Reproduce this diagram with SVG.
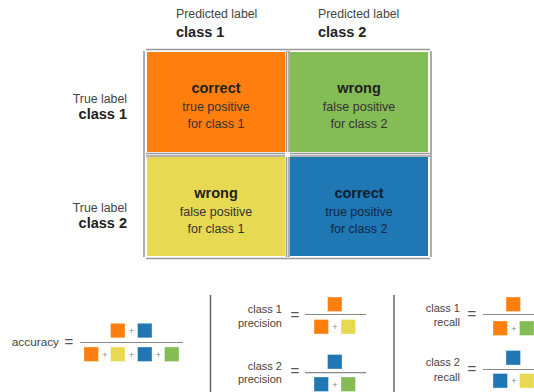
<svg xmlns="http://www.w3.org/2000/svg" width="534" height="392" viewBox="0 0 534 392">
<style>
.lbl{font-family:"Liberation Sans",Arial,sans-serif;font-size:12.3px;fill:#444}
.cls{font-family:"Liberation Sans",Arial,sans-serif;font-size:14.5px;font-weight:bold;fill:#222}
.hd{font-family:"Liberation Sans",Arial,sans-serif;font-size:14.5px;font-weight:bold;fill:#222;text-anchor:middle}
.bd{font-family:"Liberation Sans",Arial,sans-serif;font-size:12.5px;fill:#333;text-anchor:middle}
.f{font-family:"Liberation Sans",Arial,sans-serif;font-size:11px;fill:#444;text-anchor:end}
.eq{font-family:"Liberation Sans",Arial,sans-serif;font-size:15px;fill:#555;text-anchor:middle}
.pl{font-family:"Liberation Sans",Arial,sans-serif;font-size:9px;fill:#888;text-anchor:middle}
.grid{stroke:#999;stroke-width:1.6;fill:none}
.sep{stroke:#666;stroke-width:1.5}
.fl{stroke:#888;stroke-width:1.2}
.sq{stroke-width:1;stroke-opacity:0.35;stroke:#fff}
.o{fill:#FF7F0E}.b{fill:#1F77B4}.y{fill:#E8D952}.g{fill:#84BC55}
</style>
<defs>
<rect id="s" width="14.5" height="14.5"/>
</defs>
<g id="header">
<text class="lbl" x="176" y="18">Predicted label</text>
<text class="cls" x="176" y="37">class 1</text>
<text class="lbl" x="318" y="18">Predicted label</text>
<text class="cls" x="318" y="37">class 2</text>
<text class="lbl" x="127" y="103" text-anchor="end">True label</text>
<text class="cls" x="127" y="119" text-anchor="end">class 1</text>
<text class="lbl" x="127" y="212" text-anchor="end">True label</text>
<text class="cls" x="127" y="228" text-anchor="end">class 2</text>
</g>
<g id="grid">
<line class="grid" x1="146" y1="49.5" x2="430" y2="49.5"/>
<line class="grid" x1="144" y1="51" x2="144" y2="257"/>
<line class="grid" x1="431" y1="51" x2="431" y2="257"/>
<line class="grid" x1="146" y1="258.5" x2="430" y2="258.5"/>
<line class="grid" x1="146" y1="153.5" x2="285" y2="153.5"/>
<line class="grid" x1="290" y1="153.5" x2="430" y2="153.5"/>
<line class="grid" x1="146" y1="156" x2="285" y2="156"/>
<line class="grid" x1="290" y1="156" x2="430" y2="156"/>
<line class="grid" x1="286.5" y1="51" x2="286.5" y2="152"/>
<line class="grid" x1="289" y1="51" x2="289" y2="152"/>
<line class="grid" x1="286.5" y1="157" x2="286.5" y2="257"/>
<line class="grid" x1="289" y1="157" x2="289" y2="257"/>
</g>
<g id="cell-tp1">
<rect class="o" x="147" y="52" width="138" height="100"/>
<text class="hd" x="216" y="93">correct</text>
<text class="bd" x="216" y="111">true positive</text>
<text class="bd" x="216" y="128">for class 1</text>
</g>
<g id="cell-fp2">
<rect class="g" x="290" y="52" width="138" height="100"/>
<text class="hd" x="359" y="93">wrong</text>
<text class="bd" x="359" y="111">false positive</text>
<text class="bd" x="359" y="128">for class 2</text>
</g>
<g id="cell-fp1">
<rect class="y" x="147" y="157" width="138" height="99"/>
<text class="hd" x="216" y="198">wrong</text>
<text class="bd" x="216" y="216">false positive</text>
<text class="bd" x="216" y="233">for class 1</text>
</g>
<g id="cell-tp2">
<rect class="b" x="290" y="157" width="138" height="99"/>
<text class="hd" x="359" y="198" style="fill:#0f1f30">correct</text>
<text class="bd" x="359" y="216" style="fill:#10283f">true positive</text>
<text class="bd" x="359" y="233" style="fill:#10283f">for class 2</text>
</g>
<g id="connectors">
<line class="sep" x1="210.5" y1="295" x2="210.5" y2="392"/>
<line class="sep" x1="394" y1="295" x2="394" y2="392"/>
</g>
<g id="accuracy">
<text class="f" x="59" y="346" style="font-size:11.8px">accuracy</text>
<text class="eq" x="69" y="347">=</text>
<line class="fl" x1="80" y1="342.5" x2="183" y2="342.5"/>
<use href="#s" class="o sq" x="110.5" y="323.3"/>
<text class="pl" x="131.5" y="333.5">+</text>
<use href="#s" class="b sq" x="137.5" y="323.3"/>
<use href="#s" class="o sq" x="84" y="347"/>
<text class="pl" x="105" y="357.5">+</text>
<use href="#s" class="y sq" x="110.5" y="347"/>
<text class="pl" x="131.5" y="357.5">+</text>
<use href="#s" class="b sq" x="137.5" y="347"/>
<text class="pl" x="158.5" y="357.5">+</text>
<use href="#s" class="g sq" x="164.5" y="347"/>
</g>
<g id="precision1">
<text class="f" x="282" y="313">class 1</text>
<text class="f" x="282" y="327">precision</text>
<text class="eq" x="295" y="320">=</text>
<line class="fl" x1="305" y1="314.5" x2="366" y2="314.5"/>
<use href="#s" class="o sq" x="327.5" y="297"/>
<use href="#s" class="o sq" x="314" y="319.5"/>
<text class="pl" x="335" y="330">+</text>
<use href="#s" class="y sq" x="341" y="319.5"/>
</g>
<g id="precision2">
<text class="f" x="282" y="370">class 2</text>
<text class="f" x="282" y="383">precision</text>
<text class="eq" x="295" y="376">=</text>
<line class="fl" x1="305" y1="372.7" x2="366" y2="372.7"/>
<use href="#s" class="b sq" x="327.5" y="354.5"/>
<use href="#s" class="b sq" x="314" y="377"/>
<text class="pl" x="335" y="387.5">+</text>
<use href="#s" class="g sq" x="341" y="377"/>
</g>
<g id="recall1">
<text class="f" x="460" y="312">class 1</text>
<text class="f" x="460" y="326">recall</text>
<text class="eq" x="472" y="318.5">=</text>
<line class="fl" x1="483" y1="314.5" x2="545" y2="314.5"/>
<use href="#s" class="o sq" x="506" y="297"/>
<use href="#s" class="o sq" x="493" y="321"/>
<text class="pl" x="514" y="331.5">+</text>
<use href="#s" class="g sq" x="519.5" y="321"/>
</g>
<g id="recall2">
<text class="f" x="460" y="365.5">class 2</text>
<text class="f" x="460" y="380.5">recall</text>
<text class="eq" x="472" y="373.5">=</text>
<line class="fl" x1="483" y1="369.5" x2="545" y2="369.5"/>
<use href="#s" class="b sq" x="506" y="350.5"/>
<use href="#s" class="b sq" x="493" y="373.5"/>
<text class="pl" x="514" y="384">+</text>
<use href="#s" class="y sq" x="519.5" y="373.5"/>
</g>
</svg>
